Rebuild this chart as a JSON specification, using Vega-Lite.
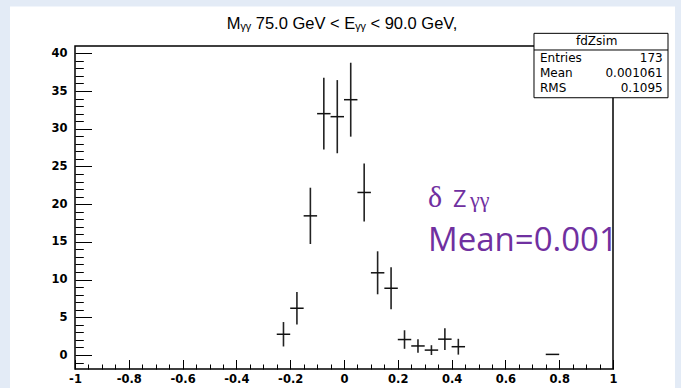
{
  "$schema": "https://vega.github.io/schema/vega-lite/v6.json",
  "width": 538,
  "height": 323,
  "autosize": "none",
  "padding": {"left": 75, "top": 46, "right": 68, "bottom": 19},
  "background": "#e3ebf6",
  "config": {
    "view": {"stroke": null},
    "text": {"font": "DejaVu Sans", "color": "#000000"}
  },
  "data": {"values": [{}]},
  "datasets": {
    "bins": [
      {"z": -0.225, "x0": -0.25, "x1": -0.2, "count": 2.75, "lo": 1.13, "hi": 4.37},
      {"z": -0.175, "x0": -0.2, "x1": -0.15, "count": 6.2, "lo": 4.05, "hi": 8.35},
      {"z": -0.125, "x0": -0.15, "x1": -0.1, "count": 18.45, "lo": 14.72, "hi": 22.18},
      {"z": -0.075, "x0": -0.1, "x1": -0.05, "count": 32.0, "lo": 27.25, "hi": 36.75},
      {"z": -0.025, "x0": -0.05, "x1": 0.0, "count": 31.6, "lo": 26.75, "hi": 36.45},
      {"z": 0.025, "x0": 0.0, "x1": 0.05, "count": 33.85, "lo": 28.95, "hi": 38.75},
      {"z": 0.075, "x0": 0.05, "x1": 0.1, "count": 21.55, "lo": 17.7, "hi": 25.4},
      {"z": 0.125, "x0": 0.1, "x1": 0.15, "count": 10.9, "lo": 8.05, "hi": 13.75},
      {"z": 0.175, "x0": 0.15, "x1": 0.2, "count": 8.85, "lo": 6.08, "hi": 11.62},
      {"z": 0.225, "x0": 0.2, "x1": 0.25, "count": 2.05, "lo": 0.82, "hi": 3.28},
      {"z": 0.275, "x0": 0.25, "x1": 0.3, "count": 1.2, "lo": 0.3, "hi": 2.1},
      {"z": 0.325, "x0": 0.3, "x1": 0.35, "count": 0.65, "lo": 0.0, "hi": 1.3},
      {"z": 0.375, "x0": 0.35, "x1": 0.4, "count": 2.1, "lo": 0.65, "hi": 3.55},
      {"z": 0.425, "x0": 0.4, "x1": 0.45, "count": 1.1, "lo": 0.05, "hi": 2.15},
      {"z": 0.775, "x0": 0.75, "x1": 0.8, "count": 0.08, "lo": 0.03, "hi": 0.13}
    ]
  },
  "layer": [
    {
      "description": "white canvas pad behind the frame",
      "mark": {"type": "rect", "fill": "#ffffff", "clip": false},
      "encoding": {
        "x": {"datum": -1.2416, "type": "quantitative", "scale": {"domain": [-1, 1], "nice": false, "zero": false}},
        "x2": {"datum": 1.2305},
        "y": {"datum": 46.2, "type": "quantitative", "scale": {"domain": [-1.856, 40.97], "nice": false, "zero": false}},
        "y2": {"datum": -5}
      }
    },
    {
      "description": "frame around the plot area",
      "mark": {"type": "rect", "fill": null, "stroke": "#000000", "strokeWidth": 1.5, "clip": false},
      "encoding": {
        "x": {"datum": -1, "type": "quantitative", "scale": {"domain": [-1, 1], "nice": false, "zero": false}},
        "x2": {"datum": 1},
        "y": {"datum": 40.97, "type": "quantitative", "scale": {"domain": [-1.856, 40.97], "nice": false, "zero": false}},
        "y2": {"datum": -1.856}
      }
    },
    {
      "description": "vertical error bars",
      "data": {"name": "bins"},
      "mark": {"type": "rule", "color": "#222222", "strokeWidth": 1.6},
      "encoding": {
        "x": {
          "field": "z", "type": "quantitative",
          "scale": {"domain": [-1, 1], "nice": false, "zero": false},
          "axis": {
            "values": [-1, -0.95, -0.9, -0.85, -0.8, -0.75, -0.7, -0.65, -0.6, -0.55, -0.5, -0.45, -0.4, -0.35, -0.3, -0.25, -0.2, -0.15, -0.1, -0.05, 0, 0.05, 0.1, 0.15, 0.2, 0.25, 0.3, 0.35, 0.4, 0.45, 0.5, 0.55, 0.6, 0.65, 0.7, 0.75, 0.8, 0.85, 0.9, 0.95, 1],
            "tickCount": 200,
            "title": null, "domain": false, "grid": false, "zindex": 1,
            "tickColor": "#000000", "tickWidth": 1,
            "tickSize": {"condition": {"test": "abs(datum.value * 5 - round(datum.value * 5)) < 0.001", "value": -9.5}, "value": -5},
            "labelExpr": "abs(datum.value * 5 - round(datum.value * 5)) < 0.001 ? (datum.value < 0 ? '-' + format(-datum.value, '~g') : format(datum.value, '~g')) : ''",
            "labelFont": "DejaVu Sans", "labelFontWeight": "bold", "labelFontSize": 11.5, "labelColor": "#000000",
            "labelPadding": 14, "labelFlush": false, "labelOverlap": false, "labelBound": false
          }
        },
        "y": {
          "field": "lo", "type": "quantitative",
          "scale": {"domain": [-1.856, 40.97], "nice": false, "zero": false},
          "axis": {
            "values": [-1, 0, 1, 2, 3, 4, 5, 6, 7, 8, 9, 10, 11, 12, 13, 14, 15, 16, 17, 18, 19, 20, 21, 22, 23, 24, 25, 26, 27, 28, 29, 30, 31, 32, 33, 34, 35, 36, 37, 38, 39, 40],
            "tickCount": 200,
            "title": null, "domain": false, "grid": false, "zindex": 1,
            "tickColor": "#000000", "tickWidth": 1,
            "tickSize": {"condition": {"test": "datum.value % 5 === 0", "value": -16.5}, "value": -8.3},
            "labelExpr": "datum.value % 5 === 0 ? format(datum.value, 'd') : ''",
            "labelFont": "DejaVu Sans", "labelFontWeight": "bold", "labelFontSize": 11.5, "labelColor": "#000000",
            "labelPadding": 24.5, "labelFlush": false, "labelOverlap": false, "labelBound": false
          }
        },
        "y2": {"field": "hi"}
      }
    },
    {
      "description": "horizontal bin-width bars",
      "data": {"name": "bins"},
      "mark": {"type": "rule", "color": "#111111", "strokeWidth": 1.5},
      "encoding": {
        "x": {"field": "x0", "type": "quantitative", "scale": {"domain": [-1, 1], "nice": false, "zero": false}},
        "x2": {"field": "x1"},
        "y": {"field": "count", "type": "quantitative", "scale": {"domain": [-1.856, 40.97], "nice": false, "zero": false}}
      }
    },
    {
      "description": "stats box",
      "mark": {"type": "rect", "fill": "#ffffff", "stroke": "#000000", "strokeWidth": 1, "clip": false},
      "encoding": {
        "x": {"datum": 0.7063, "type": "quantitative", "scale": {"domain": [-1, 1], "nice": false, "zero": false}},
        "x2": {"datum": 1.2045},
        "y": {"datum": 42.65, "type": "quantitative", "scale": {"domain": [-1.856, 40.97], "nice": false, "zero": false}},
        "y2": {"datum": 34.11}
      }
    },
    {
      "mark": {"type": "rule", "color": "#000000", "strokeWidth": 1, "clip": false},
      "encoding": {
        "x": {"datum": 0.7063, "type": "quantitative", "scale": {"domain": [-1, 1], "nice": false, "zero": false}},
        "x2": {"datum": 1.2045},
        "y": {"datum": 40.44, "type": "quantitative", "scale": {"domain": [-1.856, 40.97], "nice": false, "zero": false}}
      }
    },
    {
      "mark": {"type": "text", "fontSize": 12, "align": "center", "baseline": "middle"},
      "encoding": {
        "x": {"datum": 0.9394, "type": "quantitative", "scale": {"domain": [-1, 1], "nice": false, "zero": false}},
        "y": {"datum": 41.63, "type": "quantitative", "scale": {"domain": [-1.856, 40.97], "nice": false, "zero": false}},
        "text": {"value": "fdZsim"}
      }
    },
    {
      "mark": {"type": "text", "fontSize": 12, "align": "left", "baseline": "middle"},
      "encoding": {
        "x": {"datum": 0.7286, "type": "quantitative", "scale": {"domain": [-1, 1], "nice": false, "zero": false}},
        "y": {"datum": 39.42, "type": "quantitative", "scale": {"domain": [-1.856, 40.97], "nice": false, "zero": false}},
        "text": {"value": "Entries"}
      }
    },
    {
      "mark": {"type": "text", "fontSize": 12, "align": "right", "baseline": "middle"},
      "encoding": {
        "x": {"datum": 1.1848, "type": "quantitative", "scale": {"domain": [-1, 1], "nice": false, "zero": false}},
        "y": {"datum": 39.42, "type": "quantitative", "scale": {"domain": [-1.856, 40.97], "nice": false, "zero": false}},
        "text": {"value": "173"}
      }
    },
    {
      "mark": {"type": "text", "fontSize": 12, "align": "left", "baseline": "middle"},
      "encoding": {
        "x": {"datum": 0.7286, "type": "quantitative", "scale": {"domain": [-1, 1], "nice": false, "zero": false}},
        "y": {"datum": 37.35, "type": "quantitative", "scale": {"domain": [-1.856, 40.97], "nice": false, "zero": false}},
        "text": {"value": "Mean"}
      }
    },
    {
      "mark": {"type": "text", "fontSize": 12, "align": "right", "baseline": "middle"},
      "encoding": {
        "x": {"datum": 1.1848, "type": "quantitative", "scale": {"domain": [-1, 1], "nice": false, "zero": false}},
        "y": {"datum": 37.35, "type": "quantitative", "scale": {"domain": [-1.856, 40.97], "nice": false, "zero": false}},
        "text": {"value": "0.001061"}
      }
    },
    {
      "mark": {"type": "text", "fontSize": 12, "align": "left", "baseline": "middle"},
      "encoding": {
        "x": {"datum": 0.7286, "type": "quantitative", "scale": {"domain": [-1, 1], "nice": false, "zero": false}},
        "y": {"datum": 35.36, "type": "quantitative", "scale": {"domain": [-1.856, 40.97], "nice": false, "zero": false}},
        "text": {"value": "RMS"}
      }
    },
    {
      "mark": {"type": "text", "fontSize": 12, "align": "right", "baseline": "middle"},
      "encoding": {
        "x": {"datum": 1.1848, "type": "quantitative", "scale": {"domain": [-1, 1], "nice": false, "zero": false}},
        "y": {"datum": 35.36, "type": "quantitative", "scale": {"domain": [-1.856, 40.97], "nice": false, "zero": false}},
        "text": {"value": "0.1095"}
      }
    },
    {
      "description": "histogram title",
      "mark": {"type": "text", "font": "Liberation Sans", "fontSize": 16.5, "align": "center", "baseline": "middle", "clip": false},
      "encoding": {
        "x": {"datum": -0.007, "type": "quantitative", "scale": {"domain": [-1, 1], "nice": false, "zero": false}},
        "y": {"datum": 43.85, "type": "quantitative", "scale": {"domain": [-1.856, 40.97], "nice": false, "zero": false}},
        "text": {"value": "Mᵧᵧ 75.0 GeV < Eᵧᵧ < 90.0 GeV,"}
      }
    },
    {
      "description": "annotation: delta symbol",
      "mark": {"type": "text", "font": "Liberation Serif", "fontSize": 30, "align": "left", "baseline": "alphabetic", "color": "#7030a0"},
      "encoding": {
        "x": {"datum": 0.3123, "type": "quantitative", "scale": {"domain": [-1, 1], "nice": false, "zero": false}},
        "y": {"datum": 19.62, "type": "quantitative", "scale": {"domain": [-1.856, 40.97], "nice": false, "zero": false}},
        "text": {"value": "δ"}
      }
    },
    {
      "mark": {"type": "text", "font": "Open Sans", "fontSize": 23.5, "align": "left", "baseline": "alphabetic", "color": "#7030a0"},
      "encoding": {
        "x": {"datum": 0.4052, "type": "quantitative", "scale": {"domain": [-1, 1], "nice": false, "zero": false}},
        "y": {"datum": 19.62, "type": "quantitative", "scale": {"domain": [-1.856, 40.97], "nice": false, "zero": false}},
        "text": {"value": "Z"}
      }
    },
    {
      "mark": {"type": "text", "font": "Liberation Serif", "fontSize": 22, "align": "left", "baseline": "alphabetic", "color": "#7030a0"},
      "encoding": {
        "x": {"datum": 0.4684, "type": "quantitative", "scale": {"domain": [-1, 1], "nice": false, "zero": false}},
        "y": {"datum": 19.62, "type": "quantitative", "scale": {"domain": [-1.856, 40.97], "nice": false, "zero": false}},
        "text": {"value": "γγ"}
      }
    },
    {
      "mark": {"type": "text", "font": "Open Sans", "fontSize": 33, "align": "left", "baseline": "alphabetic", "color": "#7030a0", "clip": false},
      "encoding": {
        "x": {"datum": 0.3123, "type": "quantitative", "scale": {"domain": [-1, 1], "nice": false, "zero": false}},
        "y": {"datum": 13.79, "type": "quantitative", "scale": {"domain": [-1.856, 40.97], "nice": false, "zero": false}},
        "text": {"value": "Mean=0.001"}
      }
    }
  ]
}
